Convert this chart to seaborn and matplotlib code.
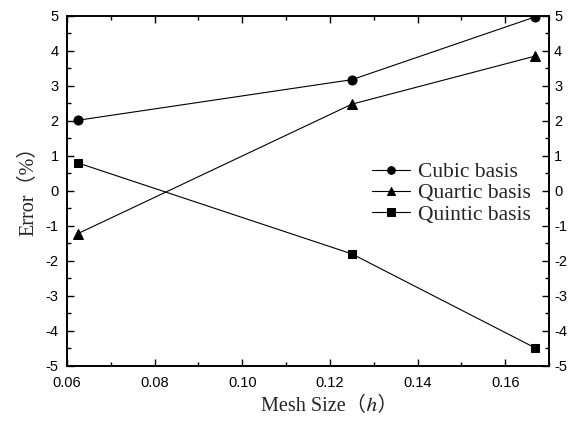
import matplotlib
matplotlib.use("Agg")
import matplotlib.pyplot as plt
import seaborn as sns
import pandas as pd
from matplotlib.ticker import MultipleLocator, FormatStrFormatter

mesh_size = [0.0625, 0.125, 0.1667]
cubic = [2.02, 3.18, 4.97]
quartic = [-1.22, 2.48, 3.85]
quintic = [0.80, -1.80, -4.48]
series_names = ["Cubic basis", "Quartic basis", "Quintic basis"]
markers = ["o", "^", "s"]

sns.set_style("ticks")
plt.rcParams["font.family"] = ["Liberation Sans", "DejaVu Sans"]
plt.rcParams["axes.unicode_minus"] = False

fig, ax = plt.subplots(figsize=(5.75, 4.21), dpi=100)
fig.subplots_adjust(left=0.1165, right=0.955, top=0.962, bottom=0.131)

for name, vals, m in zip(series_names, [cubic, quartic, quintic], markers):
    df = pd.DataFrame({"x": mesh_size, "y": vals})
    sns.lineplot(data=df, x="x", y="y", ax=ax, color="black", linewidth=0.8,
                 marker=m, markersize=6.5 if m != "s" else 6, markeredgecolor="black",
                 markerfacecolor="black", label=name)

ax.set_xlim(0.06, 0.17)
ax.set_ylim(-5, 5)
ax.xaxis.set_major_locator(MultipleLocator(0.02))
ax.xaxis.set_minor_locator(MultipleLocator(0.01))
ax.xaxis.set_major_formatter(FormatStrFormatter("%.2f"))
ax.yaxis.set_major_locator(MultipleLocator(1))
ax.yaxis.set_minor_locator(MultipleLocator(0.5))
ax.tick_params(which="both", direction="in", top=True, right=False,
               labelsize=10.5, width=1.0, colors="black")
ax.tick_params(axis="x", which="both", pad=7)
ax.tick_params(axis="y", which="both", pad=6)
ax.tick_params(which="major", length=5)
ax.tick_params(which="minor", length=3)

ax2 = ax.twinx()
ax2.set_ylim(-5, 5)
ax2.yaxis.set_major_locator(MultipleLocator(1))
ax2.yaxis.set_minor_locator(MultipleLocator(0.5))
ax2.tick_params(which="both", direction="in", labelsize=10.5, width=1.0,
                colors="black", pad=3.5)
ax2.tick_params(which="major", length=5)
ax2.tick_params(which="minor", length=3)

for a in (ax, ax2):
    for sp in a.spines.values():
        sp.set_linewidth(1.2)
        sp.set_color("black")

ax.set_xlabel("Mesh Size（ℎ）", fontsize=14.5,
              family=["Liberation Serif", "STIXGeneral", "Noto Sans CJK SC"], labelpad=5)
ax.xaxis.label.set_x(0.545)
ax.set_ylabel("Error（%）", fontsize=14.5,
              family=["Liberation Serif", "Noto Sans CJK SC"], labelpad=5)
ax.yaxis.label.set_y(0.514)

leg = ax.legend(loc="center right", bbox_to_anchor=(1.003, 0.493), frameon=False,
                prop={"family": "Liberation Serif", "size": 15.5},
                handlelength=1.75, handletextpad=0.4, labelspacing=0.05)
for h in leg.legend_handles:
    h.set_markersize(5.5)

fig.savefig("out.png", dpi=100)
